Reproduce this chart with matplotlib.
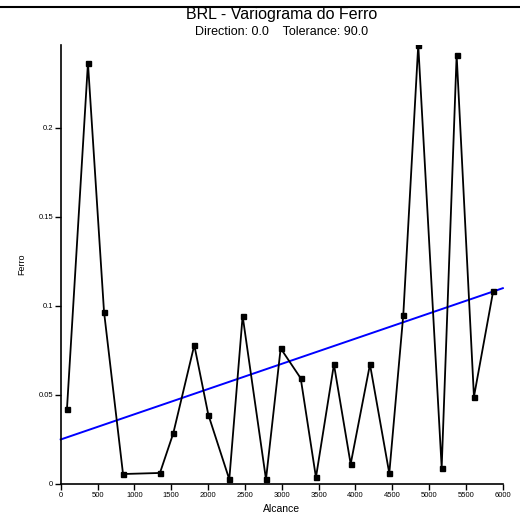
import matplotlib
matplotlib.use("Agg")
import matplotlib.pyplot as plt
from matplotlib.lines import Line2D

plt.rcParams['font.family'] = ['Liberation Sans', 'DejaVu Sans']

# Experimental variogram (lag distance, gamma)
alcance = [85, 370, 588, 846, 1347, 1528, 1813, 2003, 2288, 2469, 2786, 2985,
           3257, 3464, 3708, 3935, 4197, 4459, 4649, 4852, 5170, 5373, 5608, 5870]
ferro = [0.042, 0.2365, 0.0968, 0.0056, 0.0062, 0.0285, 0.078, 0.039, 0.0026,
         0.0944, 0.0026, 0.0762, 0.0594, 0.0037, 0.0672, 0.0112, 0.0672, 0.006,
         0.0949, 0.2466, 0.0092, 0.241, 0.049, 0.1086]

# fitted linear model
modelo_x = [0, 6000]
modelo_y = [0.025, 0.110]

xticks = list(range(0, 6001, 500))
yticks = [0, 0.05, 0.1, 0.15, 0.2]
ytick_labels = ['0', '0.05', '0.1', '0.15', '0.2']

fig = plt.figure(figsize=(5.2, 5.27), dpi=100)
ax = fig.add_axes([0.1167, 0.0816, 0.8503, 0.833])

ax.plot(alcance, ferro, color='black', lw=1.3, marker='s', ms=3.6, zorder=3)
ax.plot(modelo_x, modelo_y, color='#0000ff', lw=1.4, zorder=2, clip_on=False)

ax.set_xlim(0, 6000)
ax.set_ylim(0, 0.2466)
ax.set_xticks(xticks)
ax.set_yticks(yticks)
ax.set_yticklabels(ytick_labels)
ax.tick_params(labelsize=5.5, length=4, width=1, pad=1.5)
for s in ['top', 'right']:
    ax.spines[s].set_visible(False)
for s in ['left', 'bottom']:
    ax.spines[s].set_linewidth(1.2)

ax.set_xlabel('Alcance', fontsize=7.5, labelpad=4)
ax.set_ylabel('Ferro', fontsize=6.5, labelpad=9)

fig.text(0.541, 0.972, 'BRL - Variograma do Ferro', ha='center', va='center', fontsize=11.5)
fig.text(0.541, 0.940, 'Direction: 0.0    Tolerance: 90.0', ha='center', va='center', fontsize=9)

# page rule at top
fig.add_artist(Line2D([0, 1], [0.986, 0.986], color='black', lw=1.5, transform=fig.transFigure))

fig.savefig('out.png', dpi=100)
